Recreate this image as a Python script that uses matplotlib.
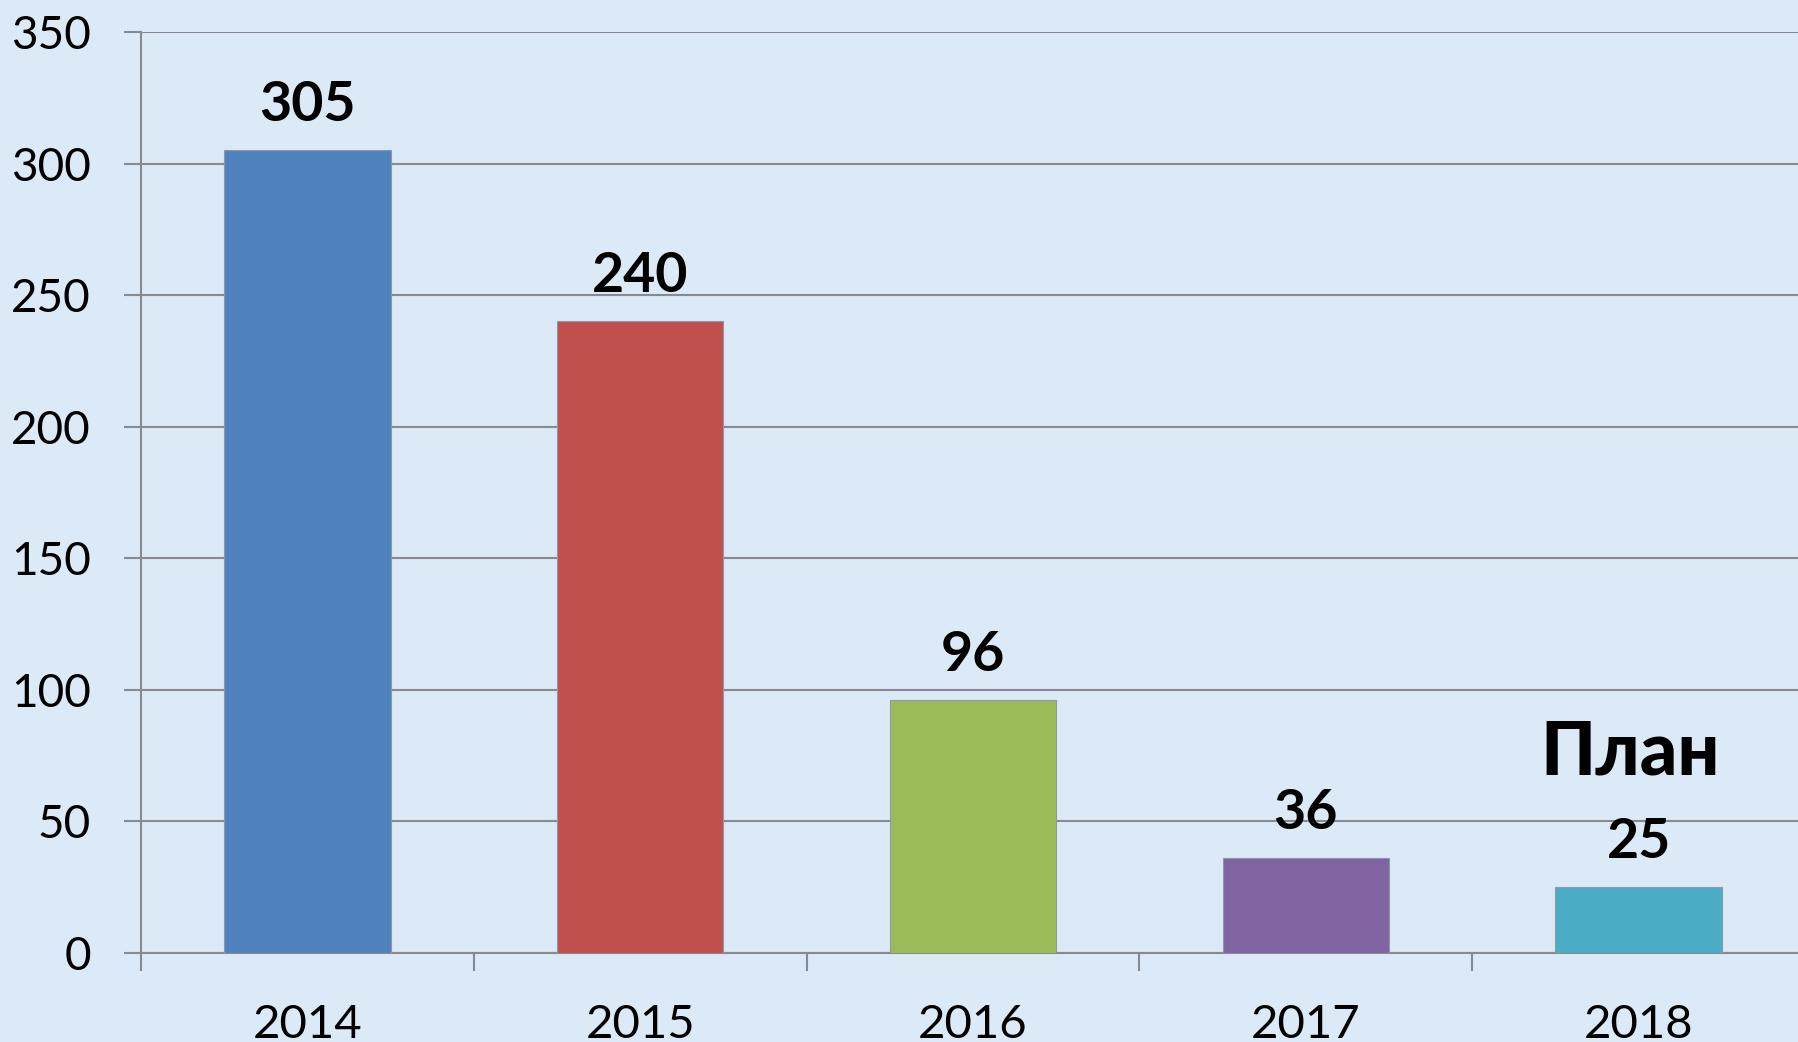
import matplotlib
matplotlib.use("Agg")
import matplotlib.pyplot as plt
import numpy as np

years = ["2014", "2015", "2016", "2017", "2018"]
values = [305, 240, 96, 36, 25]
bar_colors = ["#4F81BD", "#C0504D", "#9BBB59", "#8064A2", "#4BACC6"]
y_ticks = [0, 50, 100, 150, 200, 250, 300, 350]
plan_label = "План"

plt.rcParams["font.family"] = ["Lato", "DejaVu Sans"]

W, H = 1799, 1042
fig = plt.figure(figsize=(W / 100, H / 100), dpi=100)
bg = "#dce9f6"
fig.patch.set_facecolor(bg)

left_px, right_px, top_px, zero_px = 141, 1805, 32, 953
ax = fig.add_axes([left_px / W, 1 - zero_px / H,
                   (right_px - left_px) / W, (zero_px - top_px) / H])
ax.set_facecolor("none")

x = np.arange(len(years))
bars = ax.bar(x, values, width=0.5, color=bar_colors,
              edgecolor="#8c9aa8", linewidth=0.8, zorder=3)

ax.set_xlim(-0.5, len(years) - 0.5)
ax.set_ylim(0, 350)

grid_color = "#878a8e"
ax.set_yticks(y_ticks)
ax.set_yticklabels([str(v) for v in y_ticks])
ax.yaxis.grid(True, color=grid_color, linewidth=1.5, zorder=1)
ax.tick_params(axis="y", direction="out", length=12, width=1.5,
               color=grid_color, pad=24, labelsize=33, labelcolor="black")

# category boundaries carry tick marks, labels sit at bar centres
ax.set_xticks(np.arange(len(years) + 1) - 0.5)
ax.set_xticklabels([])
ax.set_xticks(x, minor=True)
ax.set_xticklabels(years, minor=True)
ax.tick_params(axis="x", which="major", direction="out", length=13,
               width=1.5, color=grid_color)
ax.tick_params(axis="x", which="minor", length=0, pad=37, labelsize=34,
               labelcolor="black")

for side in ("top", "right"):
    ax.spines[side].set_visible(False)
for side in ("left", "bottom"):
    ax.spines[side].set_color(grid_color)
    ax.spines[side].set_linewidth(1.5)
ax.set_axisbelow(True)

for xi, v in zip(x, values):
    ax.annotate(str(v), xy=(xi, v), xytext=(0, 21), textcoords="offset points",
                ha="center", va="baseline", fontsize=40, fontweight="bold",
                color="black", zorder=4)

ax.annotate(plan_label, xy=(x[-1], values[-1]), xytext=(-6, 81),
            textcoords="offset points", ha="center", va="baseline",
            fontsize=53, fontweight="black", color="black", zorder=4)

fig.savefig("out.png", dpi=100, facecolor=fig.get_facecolor())
